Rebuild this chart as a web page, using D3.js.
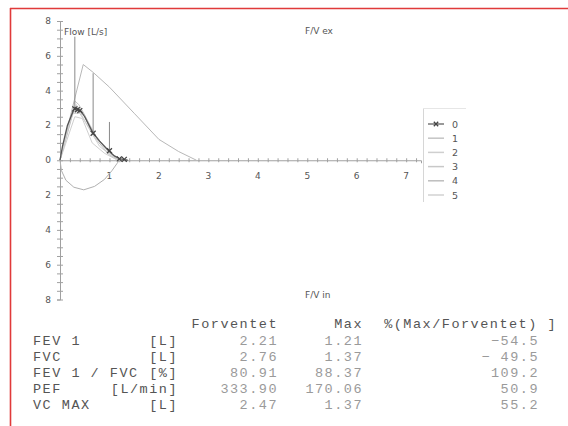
<!DOCTYPE html>
<html>
<head>
<meta charset="utf-8">
<script src="https://cdn.jsdelivr.net/npm/d3@7"></script>
<style>
  html, body { margin: 0; padding: 0; background: #fff; }
  svg { display: block; }
</style>
</head>
<body>
<svg id="chart" width="568" height="426"></svg>
<script>
// ---- Flow/volume data (volume in L, flow in L/s) ----
const predVol  = [0, 0.05, 0.25, 0.47, 0.67, 1.0, 1.5, 2.0, 2.4, 2.76];
const predFlow = [0, 0.6, 3.0, 5.5, 5.05, 4.2, 2.7, 1.2, 0.5, 0];

const trial0Vol  = [0, 0.05, 0.15, 0.27, 0.3, 0.35, 0.42, 0.5, 0.67, 0.8, 1.0, 1.1, 1.2, 1.3, 1.37];
const trial0Flow = [0, 0.8, 2.0, 2.85, 3.0, 2.95, 2.85, 2.5, 1.55, 1.1, 0.5, 0.25, 0.1, 0.03, 0];
const markVol  = [0.3, 0.35, 0.4, 0.67, 1.0, 1.2, 1.3];
const markFlow = [2.95, 2.9, 2.85, 1.55, 0.55, 0.08, 0.05];

const trial1Vol  = [0, 0.3, 0.38, 0.5, 0.7, 1.0, 1.2, 1.3];
const trial1Flow = [0, 3.4, 3.2, 2.6, 1.5, 0.4, 0.05, 0];
const trial2Vol  = [0, 0.3, 0.45, 0.65, 0.9, 1.1, 1.25];
const trial2Flow = [0, 2.5, 2.4, 1.0, 0.4, 0.1, 0];
const trial3Vol  = [0, 0.25, 0.4, 0.6, 0.85, 1.1, 1.3];
const trial3Flow = [0, 2.7, 2.7, 1.8, 0.9, 0.2, 0];
const trial4Vol  = [0, 0.3, 0.5, 0.7, 1.0, 1.2];
const trial4Flow = [0, 3.1, 2.5, 1.3, 0.3, 0];
const trial5Vol  = [0, 0.2, 0.33, 0.55, 0.8, 1.15];
const trial5Flow = [0, 2.2, 3.2, 2.0, 0.8, 0];

// inspiratory loop (negative flow)
const inspVol  = [0, 0.03, 0.12, 0.28, 0.48, 0.7, 0.9, 1.05, 1.15, 1.2];
const inspFlow = [0, -0.6, -1.15, -1.55, -1.7, -1.5, -1.1, -0.6, -0.2, 0];

// peak markers (vertical segments)
const spikeVol    = [0.3, 0.67, 1.0];
const spikeTop    = [7.1, 5.0, 2.2];
const spikeBottom = [3.0, 1.6, 0.5];

const xTicks = [1, 2, 3, 4, 5, 6, 7];
const yTicks = [-8, -6, -4, -2, 0, 2, 4, 6, 8];
const legendNames = ["0", "1", "2", "3", "4", "5"];

// ---- result table ----
const tableHead   = ["Forventet", "Max", "%(Max/Forventet) ]"];
const rowLabels   = ["FEV 1", "FVC", "FEV 1 / FVC", "PEF", "VC MAX"];
const rowUnits    = ["[L]", "[L]", "[%]", "[L/min]", "[L]"];
const expected    = ["2.21", "2.76", "80.91", "333.90", "2.47"];
const maxValues   = ["1.21", "1.37", "88.37", "170.06", "1.37"];
const pctValues   = ["\u221254.5", "\u2212 49.5", "109.2", "50.9", "55.2"];

const svg = d3.select("#chart");

// frame
svg.append("line").attr("x1", 10).attr("x2", 568).attr("y1", 8.5).attr("y2", 8.5)
  .attr("stroke", "#e03a3a").attr("stroke-width", 1.6);
svg.append("line").attr("x1", 10.5).attr("x2", 10.5).attr("y1", 8).attr("y2", 426)
  .attr("stroke", "#e03a3a").attr("stroke-width", 1.6);

const x = d3.scaleLinear().domain([0, 7.3]).range([60, 421]);
const y = d3.scaleLinear().domain([-8, 8]).range([299.5, 21]);

const axisColor = "#a0a0a0";
const sans = "'DejaVu Sans', sans-serif";

// y axis with minor ticks
const yAxis = svg.append("g").attr("transform", `translate(${x(0)},0)`)
  .call(d3.axisLeft(y).tickValues(d3.range(-8, 8.01, 0.5)).tickSize(3).tickFormat(""));
yAxis.select(".domain").attr("stroke", axisColor);
yAxis.selectAll(".tick line").attr("stroke", axisColor).attr("x2", 3).attr("x1", -3);

svg.append("g").selectAll("text").data(yTicks).join("text")
  .attr("x", 51).attr("y", d => y(d) + 3)
  .attr("text-anchor", "end").attr("font-family", sans).attr("font-size", 9)
  .attr("fill", "#555").text(d => Math.abs(d));

// x axis with minor ticks
const xAxis = svg.append("g").attr("transform", `translate(0,${y(0)})`)
  .call(d3.axisBottom(x).tickValues(d3.range(0, 7.31, 0.2)).tickSize(3).tickFormat(""));
xAxis.select(".domain").attr("stroke", axisColor);
xAxis.selectAll(".tick line").attr("stroke", axisColor).attr("y1", -2).attr("y2", 2);

svg.append("g").selectAll("text").data(xTicks).join("text")
  .attr("x", d => x(d)).attr("y", y(0) + 19)
  .attr("text-anchor", "middle").attr("font-family", sans).attr("font-size", 9)
  .attr("fill", "#555").text(d => d);

// titles
svg.append("text").attr("x", 64).attr("y", 35).attr("font-family", sans).attr("font-size", 9)
  .attr("fill", "#555").text("Flow [L/s]");
svg.append("text").attr("x", 305).attr("y", 34).attr("font-family", sans).attr("font-size", 9)
  .attr("fill", "#555").text("F/V ex");
svg.append("text").attr("x", 305).attr("y", 298).attr("font-family", sans).attr("font-size", 9)
  .attr("fill", "#555").text("F/V in");

const line = d3.line().x(d => x(d[0])).y(d => y(d[1]));
const zip = (a, b) => a.map((v, i) => [v, b[i]]);

// predicted curve
svg.append("path").attr("d", line(zip(predVol, predFlow)))
  .attr("fill", "none").attr("stroke", "#b8b8b8").attr("stroke-width", 1);

// trials 1–5
const trials = [
  [trial1Vol, trial1Flow, "#c4c4c4"],
  [trial2Vol, trial2Flow, "#cfcfcf"],
  [trial3Vol, trial3Flow, "#c8c8c8"],
  [trial4Vol, trial4Flow, "#bdbdbd"],
  [trial5Vol, trial5Flow, "#d2d2d2"]
];
trials.forEach(t => {
  svg.append("path").attr("d", line(zip(t[0], t[1])))
    .attr("fill", "none").attr("stroke", t[2]).attr("stroke-width", 1);
});

// inspiratory loop
svg.append("path").attr("d", line(zip(inspVol, inspFlow)))
  .attr("fill", "none").attr("stroke", "#b0b0b0").attr("stroke-width", 1);

// peak spikes
svg.append("g").selectAll("line").data(spikeVol).join("line")
  .attr("x1", d => x(d)).attr("x2", d => x(d))
  .attr("y1", (d, i) => y(spikeTop[i])).attr("y2", (d, i) => y(spikeBottom[i]))
  .attr("stroke", "#8a8a8a").attr("stroke-width", 1);

// best trial
svg.append("path").attr("d", line(zip(trial0Vol, trial0Flow)))
  .attr("fill", "none").attr("stroke", "#555").attr("stroke-width", 1.3);

const cross = (g, cx, cy, s, col) => {
  g.append("path")
    .attr("d", `M${cx - s},${cy - s}L${cx + s},${cy + s}M${cx - s},${cy + s}L${cx + s},${cy - s}`)
    .attr("stroke", col).attr("stroke-width", 1.3);
};
const markG = svg.append("g");
markVol.forEach((v, i) => cross(markG, x(v), y(markFlow[i]), 2.5, "#444"));

// legend
const lg = svg.append("g");
lg.append("line").attr("x1", 423.5).attr("x2", 423.5).attr("y1", 108).attr("y2", 202)
  .attr("stroke", "#d6d6d6");
lg.append("line").attr("x1", 423).attr("x2", 466).attr("y1", 108.5).attr("y2", 108.5)
  .attr("stroke", "#e6e6e6");
const legendColors = ["#555", "#c4c4c4", "#cfcfcf", "#c8c8c8", "#bdbdbd", "#d2d2d2"];
legendNames.forEach((n, i) => {
  const ly = 124 + i * 14.2;
  lg.append("line").attr("x1", 428).attr("x2", 444).attr("y1", ly).attr("y2", ly)
    .attr("stroke", legendColors[i]).attr("stroke-width", i === 0 ? 1.2 : 1.5);
  if (i === 0) cross(lg, 436, ly, 2.2, "#444");
  lg.append("text").attr("x", 452).attr("y", ly + 3.5)
    .attr("font-family", sans).attr("font-size", 9.5).attr("fill", "#555").text(n);
});

// table (typewriter style, fixed 9.6px pitch)
const mono = "'Courier New', Courier, 'Nimbus Mono PS', FreeMono, 'Liberation Mono', monospace";
const tg = svg.append("g").attr("font-family", mono).attr("font-size", 13.5)
  .attr("letter-spacing", 1.5);
const cell = (tx, ty, anchor, col, txt) =>
  tg.append("text").attr("x", tx).attr("y", ty).attr("text-anchor", anchor).attr("fill", col).text(txt);

cell(278, 328, "end", "#555", tableHead[0]);
cell(363, 328, "end", "#555", tableHead[1]);
cell(557, 328, "end", "#555", tableHead[2]);

rowLabels.forEach((lab, i) => {
  const ry = 345 + i * 16;
  cell(33, ry, "start", "#555", lab);
  cell(178, ry, "end", "#555", rowUnits[i]);
  cell(278, ry, "end", "#9a9a9a", expected[i]);
  cell(363, ry, "end", "#9a9a9a", maxValues[i]);
  cell(539, ry, "end", "#9a9a9a", pctValues[i]);
});
</script>
</body>
</html>
